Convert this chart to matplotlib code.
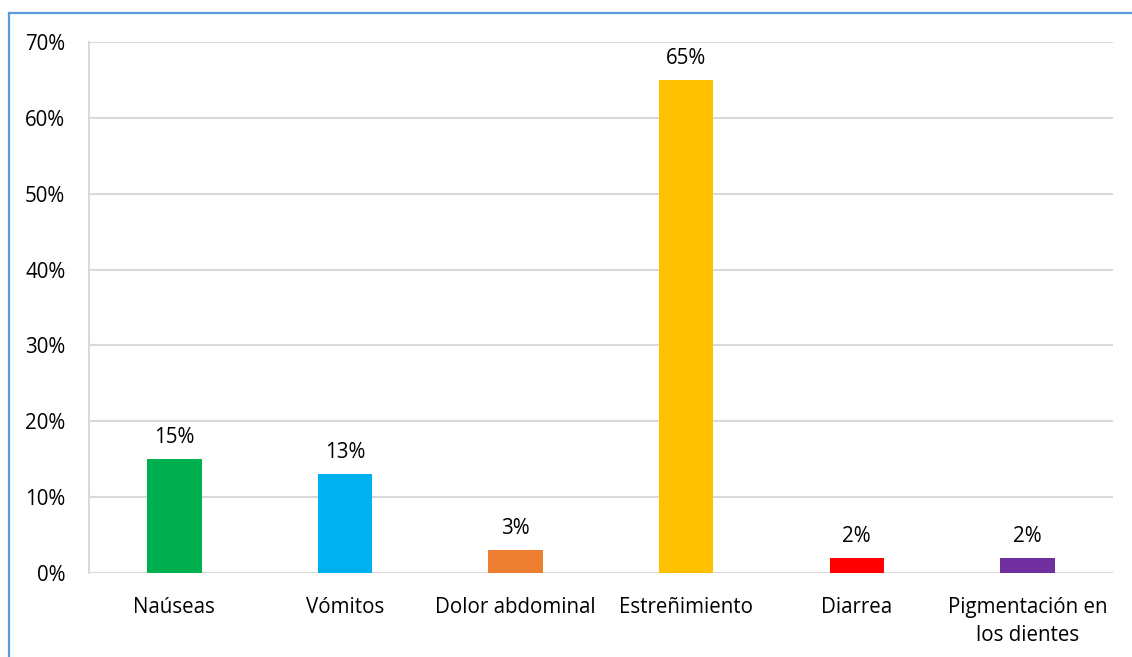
import matplotlib.pyplot as plt
from matplotlib.lines import Line2D
from matplotlib.ticker import PercentFormatter

plt.rcParams['font.family'] = ['Open Sans', 'DejaVu Sans']

# Efectos adversos reportados
categorias = ['Naúseas', 'Vómitos', 'Dolor abdominal', 'Estreñimiento',
              'Diarrea', 'Pigmentación en\nlos dientes']
porcentajes = [15, 13, 3, 65, 2, 2]
colores = ['#00B050', '#00B0F0', '#ED7D31', '#FFC000', '#FF0000', '#7030A0']

fs = 14.8

fig = plt.figure(figsize=(11.32, 6.57), dpi=100)
ax = fig.add_axes([0.0786, 0.128, 0.9044, 0.808])

x = range(len(categorias))
bars = ax.bar(x, porcentajes, width=0.32, color=colores, zorder=3)

for b, v in zip(bars, porcentajes):
    ax.annotate(f'{v}%', (b.get_x() + b.get_width() / 2, v),
                xytext=(0, 8), textcoords='offset points',
                ha='center', va='bottom', fontsize=fs, color='#000000')

ax.set_xlim(-0.5, len(categorias) - 0.5)
ax.set_ylim(0, 70)
ax.set_yticks(range(0, 71, 10))
ax.yaxis.set_major_formatter(PercentFormatter(decimals=0))
ax.set_xticks(list(x))
ax.set_xticklabels(categorias, fontsize=fs, linespacing=1.45)
ax.tick_params(axis='y', labelsize=fs, length=0, pad=17)
ax.tick_params(axis='x', length=0, pad=17)

ax.grid(axis='y', color='#D9D9D9', linewidth=1.5, zorder=0)
for s in ['top', 'right', 'bottom']:
    ax.spines[s].set_visible(False)
ax.spines['left'].set_color('#D9D9D9')
ax.spines['left'].set_linewidth(1.5)

# Marco del gráfico
fig.add_artist(Line2D([8.5 / 1132, 1], [1 - 12.5 / 657, 1 - 12.5 / 657],
                      transform=fig.transFigure, color='#5B9BD5', linewidth=1.6))
fig.add_artist(Line2D([8.5 / 1132, 8.5 / 1132], [0, 1 - 12.5 / 657],
                      transform=fig.transFigure, color='#5B9BD5', linewidth=1.6))

fig.savefig('out.png', dpi=100)
